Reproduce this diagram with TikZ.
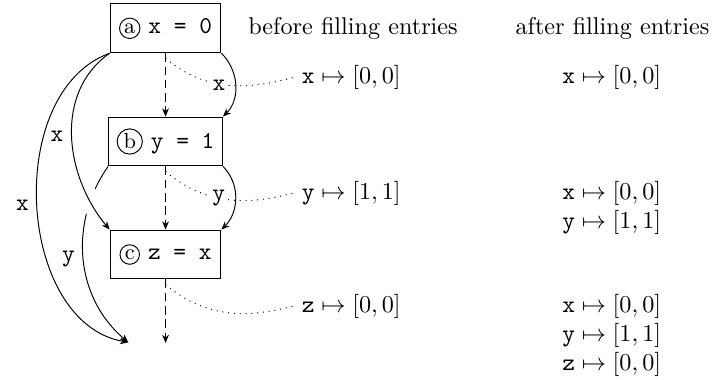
\documentclass[tikz,border=0pt]{standalone}
\usetikzlibrary{arrows.meta, positioning, calc, backgrounds}

\newcommand{\circlbl}[1]{\tikz[baseline=(ch.base)]
  \node[circle, draw, inner sep=0.8pt, minimum size=0pt, font=\small] (ch) {#1};}

\begin{document}
\begin{tikzpicture}[
  >={Stealth[length=3.4pt, width=2.8pt]},
  stmt/.style={draw, minimum width=1.61cm, minimum height=0.71cm},
  flow/.style={->, dash pattern=on 3.5pt off 2pt},
  dep/.style={->},
  var/.style={font=\ttfamily},
  tag/.style={font=\ttfamily, fill=white, inner sep=1pt},
  note/.style={dotted},
  entry/.style={align=left}
]
  \useasboundingbox (0,0) rectangle (10.34,-5.504);

  % statements
  \node[stmt] (a) at (2.404,-0.411) {\circlbl{a}~\texttt{x = 0}};
  \node[stmt] (b) at (2.404,-2.055) {\circlbl{b}~\texttt{y = 1}};
  \node[stmt] (c) at (2.404,-3.696) {\circlbl{c}~\texttt{z = x}};
  \coordinate (exit) at (2.404,-4.981);
  \coordinate (fin) at (1.863,-4.971);

  % control flow
  \draw[flow] (a) -- coordinate[pos=0.08] (ea) (b);
  \draw[flow] (b) -- coordinate[pos=0.08] (eb) (c);
  \draw[flow] (c) -- coordinate[pos=0.08] (ec) (exit);

  % tables
  \node (before) at (5.127,-0.411) {before filling entries};
  \node (after) at (8.895,-0.411) {after filling entries};

  \node (n1) at (5.102,-1.126) {$\mathtt{x} \mapsto [0,0]$};
  \node (n2) at (5.102,-2.803) {$\mathtt{y} \mapsto [1,1]$};
  \node (n3) at (5.102,-4.444) {$\mathtt{z} \mapsto [0,0]$};

  \node (m1) at (8.884,-1.126) {$\mathtt{x} \mapsto [0,0]$};
  \node[entry, anchor=north] (m2) at (n2.north -| m1) {%
    $\mathtt{x} \mapsto [0,0]$\\
    $\mathtt{y} \mapsto [1,1]$};
  \node[entry, anchor=north] (m3) at (n3.north -| m1) {%
    $\mathtt{x} \mapsto [0,0]$\\
    $\mathtt{y} \mapsto [1,1]$\\
    $\mathtt{z} \mapsto [0,0]$};

  % def-use edges
  \begin{scope}[on background layer]
    \draw[note] (ea) to[out=-40, in=195] (n1.west);
    \draw[note] (eb) to[out=-40, in=195] (n2.west);
    \draw[note] (ec) to[out=-40, in=195] (n3.west);

    \draw[dep] (b.south west) to[out=235, in=140]
      node[left, var] (ly) {y} (fin);
    \draw[dep, preaction={draw, -, white, line width=8pt}]
      (a.south west) to[out=215, in=130]
      node[left, var] (lx) {x} (c.north west);
    \draw[dep] (a.south west) to[out=200, in=170]
      node[left, var] (lxx) {x} (fin);
  \end{scope}

  \draw[dep] (a.south east) to[out=-45, in=45]
    node[left=3pt, tag] (rx) {x} (b.north east);
  \draw[dep] (b.south east) to[out=-45, in=45]
    node[left=3pt, tag] (ry) {y} (c.north east);
\end{tikzpicture}
\end{document}
